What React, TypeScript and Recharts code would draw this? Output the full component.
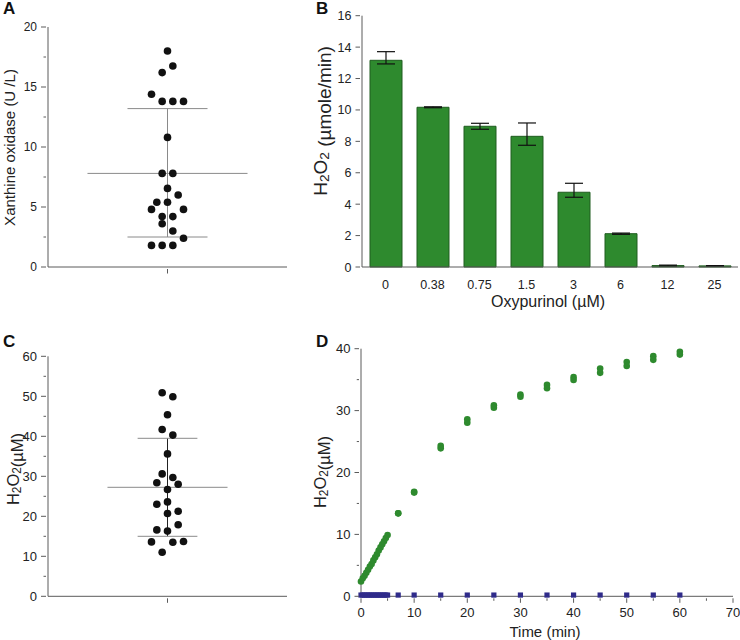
import React from 'react';
import { ScatterChart, Scatter, BarChart, Bar, ErrorBar, XAxis, YAxis, ReferenceLine } from 'recharts';

const FONT = '"Liberation Sans", Arial, Helvetica, sans-serif';
const AXIS = '#5a5a5a';
const INK = '#222';
const GREEN = '#2e8a2e';
const NAVY = '#2f2b8a';

// A: xanthine oxidase per subject (U/L), with the swarm column of each dot
const xoValues = [18, 16.75, 16.2, 14.4, 13.8, 13.8, 13.8, 10.8, 7.8, 7.8, 6.55, 6.0, 5.4, 5.4, 4.8, 4.8, 4.2, 4.2, 3.6, 3.0, 2.4, 1.8, 1.8, 1.8];
const xoColumn = [0, 1, -1, -3, -1, 1, 3, 0, -1, 1, 0, 2, -2, 0, -3, 3, -1, 1, -1, 1, 3, -3, -1, 1];
const xoMean = 7.8;
const xoSdHigh = 13.2;
const xoSdLow = 2.5;

// B: H2O2 production rate vs oxypurinol
const oxyConc = ['0', '0.38', '0.75', '1.5', '3', '6', '12', '25'];
const oxyRate = [13.16, 10.17, 8.96, 8.32, 4.76, 2.12, 0.09, 0.07];
const oxyErrLow = [0.23, 0.03, 0.19, 0.57, 0.32, 0.04, 0.03, 0.02];
const oxyErrHigh = [0.55, 0.03, 0.19, 0.85, 0.57, 0.04, 0.03, 0.02];

// C: H2O2 per subject (uM)
const hpValues = [50.9, 49.9, 45.4, 41.7, 40.3, 35.6, 30.6, 29.7, 28.4, 28.0, 26.7, 23.6, 23.0, 21.25, 20.7, 17.9, 16.6, 16.3, 13.6, 13.5, 13.7, 11.0];
const hpColumn = [-1, 1, 0, -1, 1, 0, -1, 1, -2, 2, 0, 0, -2, 2, 0, 2, -2, 0, -3, 1, 3, -1];
const hpMean = 27.25;
const hpSdHigh = 39.5;
const hpSdLow = 15.0;

// D: H2O2 time course (two replicates later on) and control
const timeEarly = [0, 0.33, 0.67, 1, 1.33, 1.67, 2, 2.33, 2.67, 3, 3.33, 3.67, 4, 4.33, 4.67, 5];
const h2o2Early = [2.4, 2.9, 3.3, 3.8, 4.3, 4.8, 5.2, 5.8, 6.3, 6.8, 7.4, 7.9, 8.4, 8.9, 9.4, 9.9];
const timeLate = [7, 10, 15, 20, 25, 30, 35, 40, 45, 50, 55, 60];
const h2o2LateA = [13.4, 16.9, 24.3, 28.6, 30.85, 32.6, 34.15, 35.4, 36.8, 37.85, 38.8, 39.5];
const h2o2LateB = [13.4, 16.75, 23.9, 28.05, 30.45, 32.25, 33.6, 34.95, 36.1, 37.2, 38.2, 39.05];
const controlEarly = [0.2, 0.2, 0.2, 0.2, 0.2, 0.2, 0.2, 0.2, 0.2, 0.2, 0.2, 0.2, 0.2, 0.2, 0.2, 0.2];
const controlLate = [0.2, 0.2, 0.2, 0.2, 0.2, 0.2, 0.2, 0.2, 0.2, 0.2, 0.2, 0.2];

const swarm = (vals: number[], cols: number[]) => vals.map((y, i) => ({ x: cols[i], y }));
const range = (a: number, b: number, s: number) => {
  const out: number[] = [];
  for (let v = a; v <= b + 1e-9; v += s) out.push(Math.round(v * 100) / 100);
  return out;
};
const isMajor = (v: number, step: number) => Math.abs(v / step - Math.round(v / step)) < 1e-6;

const yTick = (step: number, fontSize: number, len = 5, gap = 4) => (props: any) => {
  const { x, y, payload } = props;
  const v = payload.value as number;
  const major = isMajor(v, step);
  return (
    <g>
      <line x1={x} y1={y} x2={x - (major ? len : len / 2)} y2={y} stroke={AXIS} />
      {major && (
        <text x={x - len - gap} y={y} dy="0.36em" textAnchor="end" fontSize={fontSize} fill={INK} fontFamily={FONT}>
          {v}
        </text>
      )}
    </g>
  );
};

const xTick = (step: number, fontSize: number, showLabel = true) => (props: any) => {
  const { x, y, payload } = props;
  const v = payload.value;
  const major = typeof v !== 'number' || isMajor(v, step);
  return (
    <g>
      <line x1={x} y1={y} x2={x} y2={y + (major ? 4.5 : 2.5)} stroke={AXIS} />
      {major && showLabel && (
        <text x={x} y={y + 14.5} dy="0.36em" textAnchor="middle" fontSize={fontSize} fill={INK} fontFamily={FONT}>
          {v}
        </text>
      )}
    </g>
  );
};

const BlackDot = (p: any) => <circle cx={p.cx} cy={p.cy} r={3.8} fill="#111" />;
const GreenDot = (p: any) => <circle cx={p.cx} cy={p.cy} r={3.3} fill={GREEN} />;
const NavySquare = (p: any) => <rect x={p.cx - 2.6} y={p.cy - 2.6} width={5.2} height={5.2} fill={NAVY} />;

interface SwarmProps {
  points: { x: number; y: number }[];
  mean: number;
  sdHigh: number;
  sdLow: number;
  meanHalf: number;
  sdHalf: number;
  yMax: number;
  minorStep: number;
  majorStep: number;
  height: number;
  top: number;
  bottom: number;
  stemColor: string;
  fontSize: number;
}

const SwarmPanel: React.FC<SwarmProps> = (p) => (
  <ScatterChart width={300} height={p.height} margin={{ top: p.top, right: 13, bottom: p.bottom, left: 8 }}>
    <XAxis type="number" dataKey="x" domain={[-22.4, 22.4]} ticks={[0]} height={20}
      axisLine={{ stroke: AXIS }} tickLine={false} tickSize={0} tick={xTick(1, 12, false)} />
    <YAxis type="number" dataKey="y" domain={[0, p.yMax]} ticks={range(0, p.yMax, p.minorStep)} width={40} interval={0}
      axisLine={{ stroke: AXIS }} tickLine={false} tickSize={0} tick={yTick(p.majorStep, p.fontSize)} />
    <ReferenceLine segment={[{ x: 0, y: p.sdLow }, { x: 0, y: p.sdHigh }]} stroke={p.stemColor} />
    <ReferenceLine segment={[{ x: -p.meanHalf, y: p.mean }, { x: p.meanHalf, y: p.mean }]} stroke="#8a8a8a" />
    <ReferenceLine segment={[{ x: -p.sdHalf, y: p.sdHigh }, { x: p.sdHalf, y: p.sdHigh }]} stroke="#8a8a8a" />
    <ReferenceLine segment={[{ x: -p.sdHalf, y: p.sdLow }, { x: p.sdHalf, y: p.sdLow }]} stroke="#8a8a8a" />
    <Scatter data={p.points} shape={BlackDot} isAnimationActive={false} />
  </ScatterChart>
);

const barData = oxyConc.map((c, i) => ({ conc: c, rate: oxyRate[i], err: [oxyErrLow[i], oxyErrHigh[i]] }));

const OxyBars = () => (
  <BarChart width={440} height={300} data={barData} margin={{ top: 15.7, right: 2, bottom: 13, left: 22 }}>
    <XAxis dataKey="conc" height={20} axisLine={{ stroke: AXIS }} tickLine={false} tickSize={0} interval={0}
      tick={(props: any) => (
        <text x={props.x} y={props.y + 15} dy="0.36em" textAnchor="middle" fontSize={12.5} fill={INK} fontFamily={FONT}>
          {props.payload.value}
        </text>
      )} />
    <YAxis type="number" domain={[0, 16]} ticks={range(0, 16, 2)} width={40} interval={0}
      axisLine={{ stroke: AXIS }} tickLine={false} tickSize={0} tick={yTick(2, 12.5, 4.5, 4)} />
    <Bar dataKey="rate" fill={GREEN} stroke="#1f5c1f" strokeWidth={1} barSize={32} isAnimationActive={false}>
      <ErrorBar dataKey="err" width={9} stroke="#111" strokeWidth={1.2} direction="y" />
    </Bar>
  </BarChart>
);

const earlyPts = timeEarly.map((t, i) => ({ x: t, y: h2o2Early[i] }));
const latePtsA = timeLate.map((t, i) => ({ x: t, y: h2o2LateA[i] }));
const latePtsB = timeLate.map((t, i) => ({ x: t, y: h2o2LateB[i] }));
const controlPts = [
  ...timeEarly.map((t, i) => ({ x: t, y: controlEarly[i] })),
  ...timeLate.map((t, i) => ({ x: t, y: controlLate[i] })),
];

const TimeCourse = () => (
  <ScatterChart width={440} height={320} margin={{ top: 28.7, right: 7, bottom: 23.7, left: 21 }}>
    <XAxis type="number" dataKey="x" domain={[0, 70]} ticks={range(0, 70, 5)} height={20} interval={0}
      axisLine={{ stroke: AXIS }} tickLine={false} tickSize={0} tick={xTick(10, 13)} />
    <YAxis type="number" dataKey="y" domain={[0, 40]} ticks={range(0, 40, 5)} width={40} interval={0}
      axisLine={{ stroke: AXIS }} tickLine={false} tickSize={0} tick={yTick(10, 13, 4.5, 4)} />
    <Scatter data={controlPts} shape={NavySquare} isAnimationActive={false} />
    <Scatter data={earlyPts} shape={GreenDot} isAnimationActive={false} />
    <Scatter data={latePtsA} shape={GreenDot} isAnimationActive={false} />
    <Scatter data={latePtsB} shape={GreenDot} isAnimationActive={false} />
  </ScatterChart>
);

const H2O2 = () => (
  <>
    H<tspan dy={4} fontSize="0.72em">2</tspan>
    <tspan dy={-4}>O</tspan>
    <tspan dy={4} fontSize="0.72em">2</tspan>
    <tspan dy={-4}></tspan>
  </>
);

const Labels = () => (
  <svg width={740} height={640} style={{ position: 'absolute', left: 0, top: 0, pointerEvents: 'none' }} fontFamily={FONT}>
    <g fontWeight="bold" fontSize={17} fill="#111">
      <text x={3} y={14}>A</text>
      <text x={316} y={14}>B</text>
      <text x={3} y={347}>C</text>
      <text x={316} y={347}>D</text>
    </g>
    <g fill={INK} textAnchor="middle" dominantBaseline="central">
      <text fontSize={15} transform="translate(9.5,147.5) rotate(-90)">Xanthine oxidase (U /L)</text>
      <text fontSize={19} transform="translate(320,121) rotate(-90)"><H2O2 /> (µmole/min)</text>
      <text fontSize={16} x={548} y={301.5}>Oxypurinol (µM)</text>
      <text fontSize={16.5} transform="translate(13,469) rotate(-90)"><H2O2 />(µM)</text>
      <text fontSize={16.5} transform="translate(320,472) rotate(-90)"><H2O2 />(µM)</text>
      <text fontSize={15} x={545} y={631}>Time (min)</text>
    </g>
  </svg>
);

export default function App() {
  return (
    <div style={{ position: 'fixed', left: 0, top: 0, width: 740, height: 640, background: '#fff', fontFamily: FONT }}>
      <div style={{ position: 'absolute', left: 0, top: 0 }}>
        <SwarmPanel points={swarm(xoValues, xoColumn)} mean={xoMean} sdHigh={xoSdHigh} sdLow={xoSdLow}
          meanHalf={15} sdHalf={7.5} yMax={20} minorStep={2.5} majorStep={5} height={290} top={27} bottom={3}
          stemColor="#8a8a8a" fontSize={12} />
      </div>
      <div style={{ position: 'absolute', left: 300, top: 0 }}>
        <OxyBars />
      </div>
      <div style={{ position: 'absolute', left: 0, top: 320 }}>
        <SwarmPanel points={swarm(hpValues, hpColumn)} mean={hpMean} sdHigh={hpSdHigh} sdLow={hpSdLow}
          meanHalf={11.25} sdHalf={5.6} yMax={60} minorStep={5} majorStep={10} height={320} top={36.3} bottom={23.7}
          stemColor="#222" fontSize={13} />
      </div>
      <div style={{ position: 'absolute', left: 300, top: 320 }}>
        <TimeCourse />
      </div>
      <Labels />
    </div>
  );
}
